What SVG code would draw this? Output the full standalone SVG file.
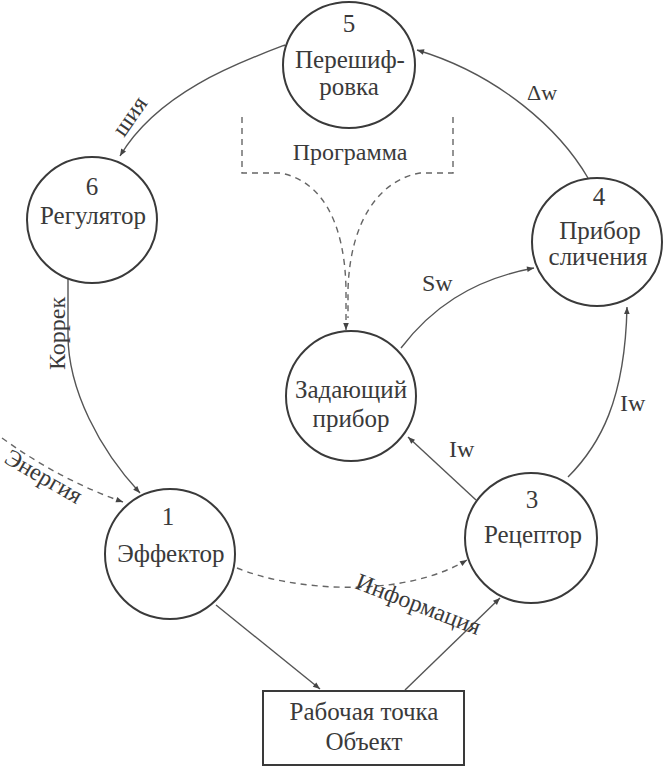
<svg xmlns="http://www.w3.org/2000/svg" width="664" height="768" viewBox="0 0 664 768" font-family="'Liberation Serif', 'DejaVu Serif', serif">
<defs>
<style>
.node{fill:#fff;stroke:#3a3a3a;stroke-width:2}
.t{font-family:'Liberation Serif','DejaVu Serif',serif;font-size:25px;fill:#3a3a3a;text-anchor:middle}
.lbl{font-family:'Liberation Serif','DejaVu Serif',serif;font-size:24px;fill:#3a3a3a}
.ln{fill:none;stroke:#555;stroke-width:1.4}
.dash{fill:none;stroke:#666;stroke-width:1.4;stroke-dasharray:6 5}
</style>
<marker id="ah" viewBox="0 0 10 10" refX="10" refY="5" markerWidth="10" markerHeight="7" orient="auto" markerUnits="userSpaceOnUse">
<path d="M0,1 L10,5 L0,9 z" fill="#444"/>
</marker>
</defs>
<rect width="664" height="768" fill="#fff"/>

<g id="connectors">
<path class="ln" d="M285 45 C240 62 158 92 120 156" marker-end="url(#ah)"/>
<path class="ln" d="M68 279 L68 335 C68 390 100 450 140 493" marker-end="url(#ah)"/>
<path class="dash" d="M2 438 Q60 480 123 502" marker-end="url(#ah)"/>
<path class="ln" d="M216 605 L320 689" marker-end="url(#ah)"/>
<path class="ln" d="M405 690 L500 598" marker-end="url(#ah)"/>
<path class="dash" d="M237 568 C290 590 400 600 467 560" marker-end="url(#ah)"/>
<path class="ln" d="M476 500 L408 437" marker-end="url(#ah)"/>
<path class="ln" d="M568 477 C600 445 625 400 627 307" marker-end="url(#ah)"/>
<path class="ln" d="M401 348 C430 310 470 280 534 268" marker-end="url(#ah)"/>
<path class="ln" d="M588 178 C560 130 500 75 417 50" marker-end="url(#ah)"/>
<path class="dash" d="M242 117 V173 H280 C320 180 345 220 346 290 V330" marker-end="url(#ah)"/>
<path class="dash" d="M453 117 V173 H420 C380 180 350 220 348 290 V318"/>
<text class="lbl" transform="translate(124 138) rotate(-55)">шия</text>
<text class="lbl" transform="translate(65 370) rotate(-90)">Коррек</text>
<text class="lbl" transform="translate(3 462) rotate(30)">Энергия</text>
<text class="lbl" transform="translate(354 588) rotate(21)">Информация</text>
<text class="lbl" x="449" y="457">Iw</text>
<text class="lbl" x="620" y="411">Iw</text>
<text class="lbl" x="422" y="291">Sw</text>
<text class="lbl" x="527" y="100" style="font-size:22px">Δw</text>
<text class="lbl" x="350" y="160" style="text-anchor:middle">Программа</text>
</g>

<g id="n5">
<ellipse class="node" cx="349" cy="65" rx="66" ry="63"/>
<text class="t" x="349" y="32">5</text>
<text class="t" x="350" y="68">Перешиф-</text>
<text class="t" x="349" y="95">ровка</text>
</g>
<g id="n6">
<ellipse class="node" cx="92" cy="220" rx="65" ry="63"/>
<text class="t" x="92" y="195">6</text>
<text class="t" x="93" y="224">Регулятор</text>
</g>
<g id="n4">
<ellipse class="node" cx="597" cy="242" rx="65" ry="64"/>
<text class="t" x="599" y="205">4</text>
<text class="t" x="600" y="239">Прибор</text>
<text class="t" x="598" y="265">сличения</text>
</g>
<g id="nz">
<ellipse class="node" cx="351" cy="396" rx="65" ry="65"/>
<text class="t" x="351" y="398">Задающий</text>
<text class="t" x="351" y="427">прибор</text>
</g>
<g id="n1">
<ellipse class="node" cx="170" cy="554" rx="65" ry="65"/>
<text class="t" x="168" y="525">1</text>
<text class="t" x="171" y="562">Эффектор</text>
</g>
<g id="n3">
<ellipse class="node" cx="531" cy="538" rx="66" ry="65"/>
<text class="t" x="532" y="508">3</text>
<text class="t" x="533" y="543">Рецептор</text>
</g>
<g id="box">
<rect x="263" y="691" width="201" height="74" fill="#fff" stroke="#3a3a3a" stroke-width="2"/>
<text class="t" x="364" y="720">Рабочая точка</text>
<text class="t" x="364" y="750">Объект</text>
</g>
</svg>
